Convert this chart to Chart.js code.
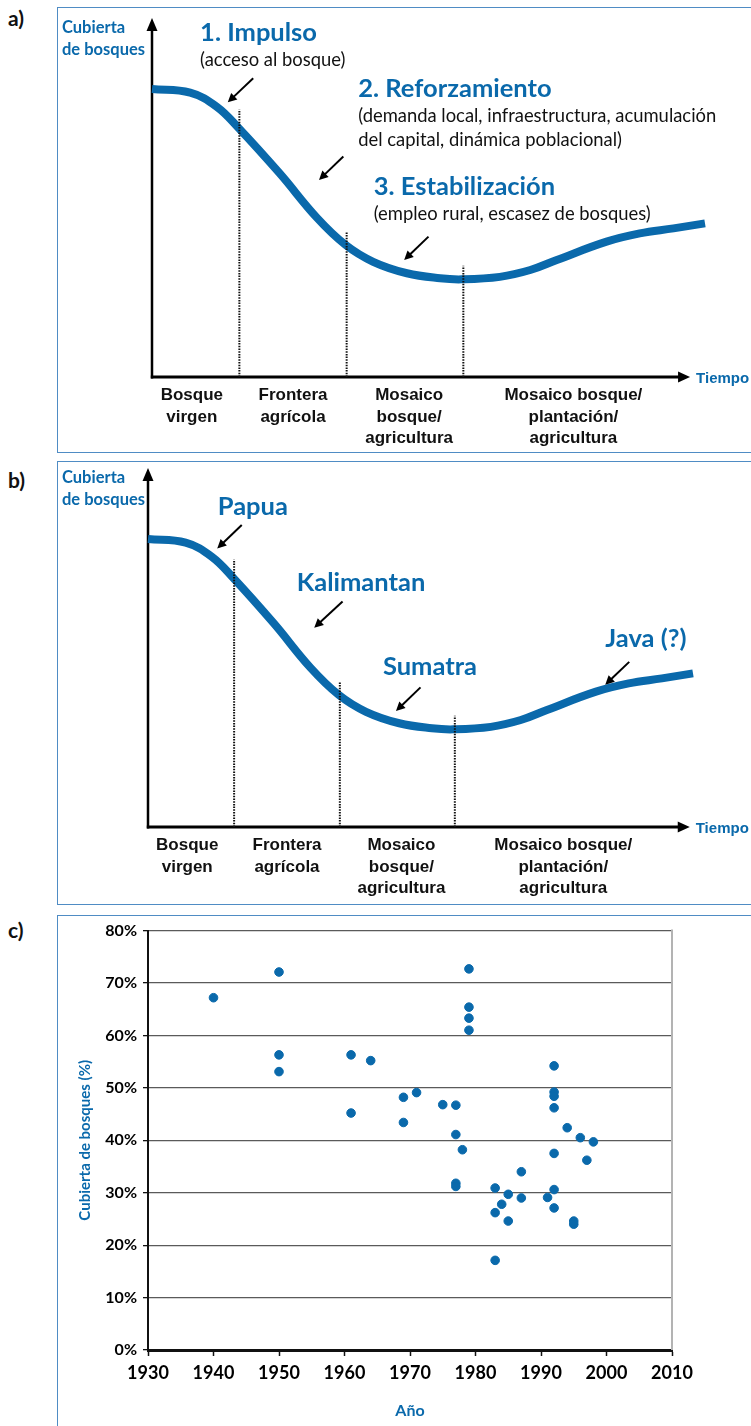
<!DOCTYPE html>
<html lang="es">
<head>
<meta charset="utf-8">
<title>Transición forestal</title>
<script src="https://cdn.jsdelivr.net/npm/chart.js@4.4.1/dist/chart.umd.min.js"></script>
<style>
  body { margin: 0; background: #fff; }
  #page { position: relative; width: 751px; height: 1426px; overflow: hidden; }
  .frame { position: absolute; left: 57px; width: 720px; border: 1.5px solid #4f8cc4; border-right: none; }
  .tag { position: absolute; left: 8px; font: bold 21px Lato, sans-serif; line-height: 1; color: #111; }
  canvas { position: absolute; left: 0; }
</style>
</head>
<body>
<div id="page">
  <div class="frame" style="top:7px;height:444px"></div>
  <div class="frame" style="top:461px;height:442px"></div>
  <div class="frame" style="top:915px;height:600px"></div>
  <div class="tag" style="top:7px">a)</div>
  <div class="tag" style="top:469px">b)</div>
  <div class="tag" style="top:919px">c)</div>
  <canvas id="chartA" width="751" height="455" style="top:0"></canvas>
  <canvas id="chartB" width="751" height="455" style="top:450px"></canvas>
  <canvas id="chartC" width="751" height="511" style="top:915px"></canvas>
</div>
<script>
//
// Forest transition: conceptual curve (a, b) and observed cover (c)
//

const BLUE = '#0a69ab';
const SANS = 'Lato, "Open Sans", sans-serif';
const ARIAL = '"Liberation Sans", Arial, sans-serif';

// Conceptual curve, time 0..100 vs forest cover 0..100.
const curveX = [0, 6.9, 11.7, 15.7, 23.1, 29.8, 35.0, 40.0, 46.1, 52.1, 56.0, 62.9, 68.4, 73.2, 82.2, 88.2, 94.3, 100];
const curveY = [80.2, 79.2, 75.3, 69.3, 56.7, 44.4, 36.8, 32.1, 28.9, 27.5, 27.2, 27.9, 29.8, 32.6, 37.7, 40.0, 41.4, 42.8];

// Phase boundaries (dotted lines).
const phaseX = [15.8, 35.2, 56.3];
const phaseTop = [74.5, 40.6, 31.0];

// Stages under the time axis.
const stageLabels = [
  ['Bosque', 'virgen'],
  ['Frontera', 'agrícola'],
  ['Mosaico', 'bosque/', 'agricultura'],
  ['Mosaico bosque/', 'plantación/', 'agricultura']
];
const stageCenters = [7.2, 25.5, 46.5, 76.2];

// Panel a: driving forces.
const forceTitles = ['1. Impulso', '2. Reforzamiento', '3. Estabilización'];
const forceNotes = [
  ['(acceso al bosque)'],
  ['(demanda local, infraestructura, acumulación', 'del capital, dinámica poblacional)'],
  ['(empleo rural, escasez de bosques)']
];

// Panel b: islands.
const islands = ['Papua', 'Kalimantan', 'Sumatra', 'Java (?)'];

// Panel c: observed forest cover per year.
const years = [1940, 1950, 1950, 1950, 1961, 1961, 1964, 1969, 1969, 1971, 1975,
  1977, 1977, 1977, 1977, 1978, 1979, 1979, 1979, 1979, 1983, 1983, 1983, 1984,
  1985, 1985, 1987, 1987, 1991, 1992, 1992, 1992, 1992, 1992, 1992, 1992, 1994,
  1995, 1995, 1996, 1997, 1998];
const coverPct = [67.2, 72.1, 56.3, 53.1, 56.3, 45.2, 55.2, 48.2, 43.4, 49.1, 46.8,
  46.7, 41.1, 31.8, 31.2, 38.2, 72.7, 65.4, 63.3, 61.0, 30.9, 26.2, 17.1, 27.8,
  29.7, 24.6, 34.0, 29.0, 29.1, 54.2, 49.2, 48.4, 46.2, 37.5, 30.6, 27.1, 42.4,
  24.6, 24.0, 40.5, 36.2, 39.7];

// Where the annotations sit, in chart units.
const layoutA = {
  axisTip: 97.3,
  arrows: [[18.3, 83.2, 13.7, 76.5], [34.6, 61.4, 30.2, 54.9], [50.0, 39.1, 45.6, 32.6]],
  anchors: [[8.7, 93.6], [37.3, 78.0], [40.1, 50.7]]
};
const layoutB = {
  axisTip: 99.4,
  arrows: [[17.2, 84.1, 12.7, 77.6], [35.7, 62.8, 30.5, 55.5], [50.0, 38.9, 45.5, 32.3], [88.3, 46.0, 83.9, 39.6]],
  anchors: [[12.8, 86.9], [27.3, 65.8], [43.1, 42.3], [83.9, 50.2]]
};

function arrow(ctx, x1, y1, x2, y2, len, half) {
  const ang = Math.atan2(y2 - y1, x2 - x1);
  const bx = x2 - Math.cos(ang) * len;
  const by = y2 - Math.sin(ang) * len;
  ctx.beginPath();
  ctx.moveTo(x1, y1);
  ctx.lineTo(bx + Math.cos(ang), by + Math.sin(ang));
  ctx.stroke();
  ctx.beginPath();
  ctx.moveTo(x2, y2);
  ctx.lineTo(bx + Math.sin(ang) * half, by - Math.cos(ang) * half);
  ctx.lineTo(bx - Math.sin(ang) * half, by + Math.cos(ang) * half);
  ctx.closePath();
  ctx.fill();
}

const curveDecor = {
  id: 'curveDecor',
  beforeDatasetsDraw(chart, args, opts) {
    const { ctx, chartArea: a, scales: { x } } = chart;
    ctx.save();
    ctx.strokeStyle = '#000';
    ctx.fillStyle = '#000';

    // Axes with arrow heads.
    ctx.lineWidth = 2.5;
    arrow(ctx, a.left, a.bottom + 1.5, a.left, a.top, 13, 5.5);
    ctx.lineWidth = 3;
    const tip = x.getPixelForValue(opts.axisTip);
    arrow(ctx, a.left - 1.2, a.bottom, tip, a.bottom, 12, 5.5);

    // Axis titles.
    ctx.fillStyle = BLUE;
    ctx.font = 'bold 16.5px ' + SANS;
    ctx.textAlign = 'left';
    ctx.textBaseline = 'alphabetic';
    ctx.fillText('Cubierta', 62, a.top + 15);
    ctx.fillText('de bosques', 62, a.top + 37);
    ctx.font = 'bold 15px ' + ARIAL;
    ctx.fillText('Tiempo', tip + 6, a.bottom + 6);

    // Stage names.
    ctx.fillStyle = '#111';
    ctx.font = 'bold 17px ' + ARIAL;
    ctx.textAlign = 'center';
    stageLabels.forEach((lines, i) => {
      const cx = x.getPixelForValue(stageCenters[i]);
      lines.forEach((t, j) => ctx.fillText(t, cx, a.bottom + 23 + j * 21.5));
    });
    ctx.restore();
  },
  afterDatasetsDraw(chart, args, opts) {
    const { ctx, scales: { x, y } } = chart;
    ctx.save();
    ctx.strokeStyle = '#000';
    ctx.fillStyle = '#000';
    ctx.lineWidth = 2;
    for (const [x1, y1, x2, y2] of opts.arrows) {
      arrow(ctx, x.getPixelForValue(x1), y.getPixelForValue(y1),
        x.getPixelForValue(x2), y.getPixelForValue(y2), 9, 4.5);
    }
    ctx.textAlign = 'left';
    ctx.textBaseline = 'alphabetic';
    opts.titles.forEach((t, i) => {
      const px = x.getPixelForValue(opts.anchors[i][0]);
      const py = y.getPixelForValue(opts.anchors[i][1]);
      ctx.fillStyle = BLUE;
      ctx.font = 'bold 25.5px ' + SANS;
      ctx.fillText(t, px, py);
      ctx.fillStyle = '#111';
      ctx.font = '18.4px ' + SANS;
      (opts.notes[i] || []).forEach((n, j) => ctx.fillText(n, px, py + 25 + j * 24));
    });
    ctx.restore();
  }
};

function curveChart(id, padding, layout, titles, notes) {
  const datasets = [{
    data: curveX.map((v, i) => ({ x: v, y: curveY[i] })),
    borderColor: BLUE,
    borderWidth: 8,
    pointRadius: 0,
    tension: 0.4,
    borderCapStyle: 'butt',
    clip: false,
    order: 2
  }];
  phaseX.forEach((px, i) => {
    datasets.push({
      data: [{ x: px, y: 0 }, { x: px, y: phaseTop[i] }],
      borderColor: '#111',
      borderWidth: 2,
      borderDash: [1.5, 1.2],
      pointRadius: 0,
      order: 1
    });
  });
  return new Chart(document.getElementById(id), {
    type: 'line',
    data: { datasets },
    options: {
      responsive: false,
      animation: false,
      layout: { padding },
      scales: {
        x: { type: 'linear', min: 0, max: 100, display: false },
        y: { min: 0, max: 100, display: false }
      },
      plugins: {
        legend: { display: false },
        tooltip: { enabled: false },
        curveDecor: { axisTip: layout.axisTip, arrows: layout.arrows, anchors: layout.anchors, titles, notes }
      }
    },
    plugins: [curveDecor]
  });
}

curveChart('chartA', { left: 152, right: 46, top: 18, bottom: 78 }, layoutA, forceTitles, forceNotes);
curveChart('chartB', { left: 148, right: 58, top: 18, bottom: 78 }, layoutB, islands, []);

const rightEdge = {
  id: 'rightEdge',
  beforeDatasetsDraw(chart) {
    const { ctx, chartArea: a } = chart;
    ctx.save();
    ctx.strokeStyle = '#b3b3b3';
    ctx.lineWidth = 2;
    ctx.beginPath();
    ctx.moveTo(a.right, a.top - 1);
    ctx.lineTo(a.right, a.bottom);
    ctx.stroke();
    ctx.restore();
  }
};

new Chart(document.getElementById('chartC'), {
  type: 'scatter',
  data: {
    datasets: [{
      data: years.map((yr, i) => ({ x: yr, y: coverPct[i] })),
      backgroundColor: BLUE,
      borderColor: BLUE,
      pointRadius: 4.3,
      pointHoverRadius: 4.3
    }]
  },
  options: {
    responsive: false,
    animation: false,
    layout: { padding: { top: 13, right: 79, left: 0, bottom: 0 } },
    plugins: { legend: { display: false }, tooltip: { enabled: false } },
    scales: {
      x: {
        type: 'linear', min: 1930, max: 2010,
        afterFit: (s) => { s.height = 76; },
        ticks: { stepSize: 10, callback: (v) => String(v), color: '#000', maxRotation: 0, padding: 6,
          font: { family: SANS, size: 18, weight: 'bold' } },
        grid: { drawOnChartArea: false, tickLength: 6, tickColor: '#111', tickWidth: 1.5 },
        border: { color: '#111', width: 3 },
        title: { display: true, text: 'Año', color: BLUE, padding: { top: 0, bottom: 6 },
          font: { family: SANS, size: 16, weight: 'bold' } }
      },
      y: {
        min: 0, max: 80,
        afterFit: (s) => { s.width = 148; },
        ticks: { stepSize: 10, callback: (v) => v + '%', color: '#000', padding: 6,
          font: { family: SANS, size: 16, weight: 'bold' } },
        grid: { color: '#5a5a5a', lineWidth: 1.3, tickLength: 5, tickColor: '#111' },
        border: { color: '#111', width: 2 },
        title: { display: true, text: 'Cubierta de bosques (%)', color: BLUE, padding: { top: 76, bottom: 0 },
          font: { family: SANS, size: 15, weight: 'bold' } }
      }
    }
  },
  plugins: [rightEdge]
});
</script>
</body>
</html>
